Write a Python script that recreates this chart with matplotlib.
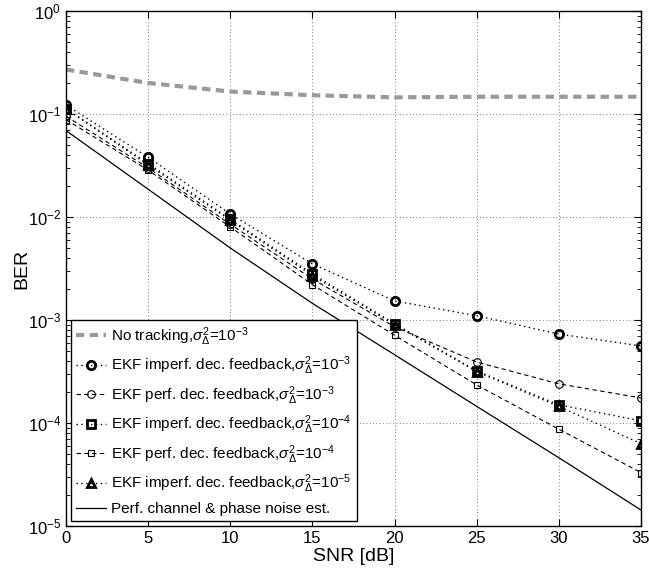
import matplotlib
matplotlib.use('Agg')
import matplotlib.pyplot as plt
from matplotlib.ticker import LogLocator, NullFormatter

plt.rcParams['font.family'] = ['Liberation Sans', 'DejaVu Sans']
plt.rcParams['mathtext.fontset'] = 'custom'
plt.rcParams['mathtext.rm'] = 'Liberation Sans'
plt.rcParams['mathtext.it'] = 'Liberation Sans:italic'

snr = [0, 5, 10, 15, 20, 25, 30, 35]

no_tracking = [0.27, 0.20, 0.165, 0.152, 0.145, 0.147, 0.147, 0.147]
imperf_1e3 = [0.122, 0.038, 0.0107, 0.0035, 0.00153, 0.0011, 7.3e-4, 5.6e-4]
perf_1e3 = [0.095, 0.030, 0.0085, 0.0025, 8.6e-4, 3.9e-4, 2.4e-4, 1.75e-4]
imperf_1e4 = [0.113, 0.033, 0.0095, 0.0028, 9.2e-4, 3.2e-4, 1.5e-4, 1.05e-4]
perf_1e4 = [0.088, 0.0285, 0.0080, 0.0022, 7.1e-4, 2.34e-4, 8.7e-5, 3.3e-5]
imperf_1e5 = [0.112, 0.032, 0.0093, 0.0027, 9.0e-4, 3.15e-4, 1.45e-4, 6.3e-5]
perfect = [0.069, 0.0186, 0.0050, 0.00145, 4.6e-4, 1.45e-4, 4.6e-5, 1.43e-5]

sig = r'$\sigma_{\Delta}^{2}$=$10^{%s}$'
dot = (0, (1, 2.5))
dash = (0, (4, 3))

fig = plt.figure(figsize=(6.49, 5.71), dpi=100)
ax = fig.add_axes([0.1017, 0.0788, 0.886, 0.902])

ax.plot(snr, no_tracking, color='#999999', lw=3, linestyle=(0, (2, 1.3)),
        label='No tracking,' + sig % '-3')
ax.plot(snr, imperf_1e3, linestyle=dot, color='k', lw=1, marker='o', ms=6, mew=2,
        mfc='none', label='EKF imperf. dec. feedback,' + sig % '-3')
ax.plot(snr, perf_1e3, linestyle=dash, color='k', lw=0.8, marker='o', ms=5.5, mew=0.8,
        mfc='none', label='EKF perf. dec. feedback,' + sig % '-3')
ax.plot(snr, imperf_1e4, linestyle=dot, color='k', lw=1, marker='s', ms=5.5, mew=2,
        mfc='none', label='EKF imperf. dec. feedback,' + sig % '-4')
ax.plot(snr, perf_1e4, linestyle=dash, color='k', lw=0.8, marker='s', ms=5, mew=0.8,
        mfc='none', label='EKF perf. dec. feedback,' + sig % '-4')
ax.plot(snr, imperf_1e5, linestyle=dot, color='k', lw=1, marker='^', ms=6, mew=2,
        mfc='none', label='EKF imperf. dec. feedback,' + sig % '-5')
ax.plot(snr, perfect, '-', color='k', lw=0.9,
        label='Perf. channel & phase noise est.')

ax.set_yscale('log')
ax.set_xlim(0, 35)
ax.set_ylim(1e-5, 1)
ax.set_xticks(snr)
ax.yaxis.set_major_locator(LogLocator(base=10, numticks=10))
ax.yaxis.set_minor_locator(LogLocator(base=10, subs=range(2, 10), numticks=10))
ax.yaxis.set_minor_formatter(NullFormatter())
ax.tick_params(which='both', direction='in', top=True, right=True, labelsize=12)
ax.tick_params(which='major', length=5)
ax.tick_params(which='minor', length=3)
ax.grid(True, which='major', linestyle=(0, (1, 3)), color='#555555', lw=0.6)
for s in ax.spines.values():
    s.set_linewidth(1)

ax.set_xlabel('SNR [dB]', fontsize=14, labelpad=1.5)
ax.set_ylabel('BER', fontsize=14, labelpad=-2)

leg = ax.legend(loc='lower left', fontsize=11, handlelength=2.0,
                fancybox=False, framealpha=1, edgecolor='k',
                borderpad=0.35, labelspacing=0.45, handletextpad=0.3,
                borderaxespad=0.3)
leg.get_frame().set_linewidth(1)

fig.savefig('out.png', dpi=100)
